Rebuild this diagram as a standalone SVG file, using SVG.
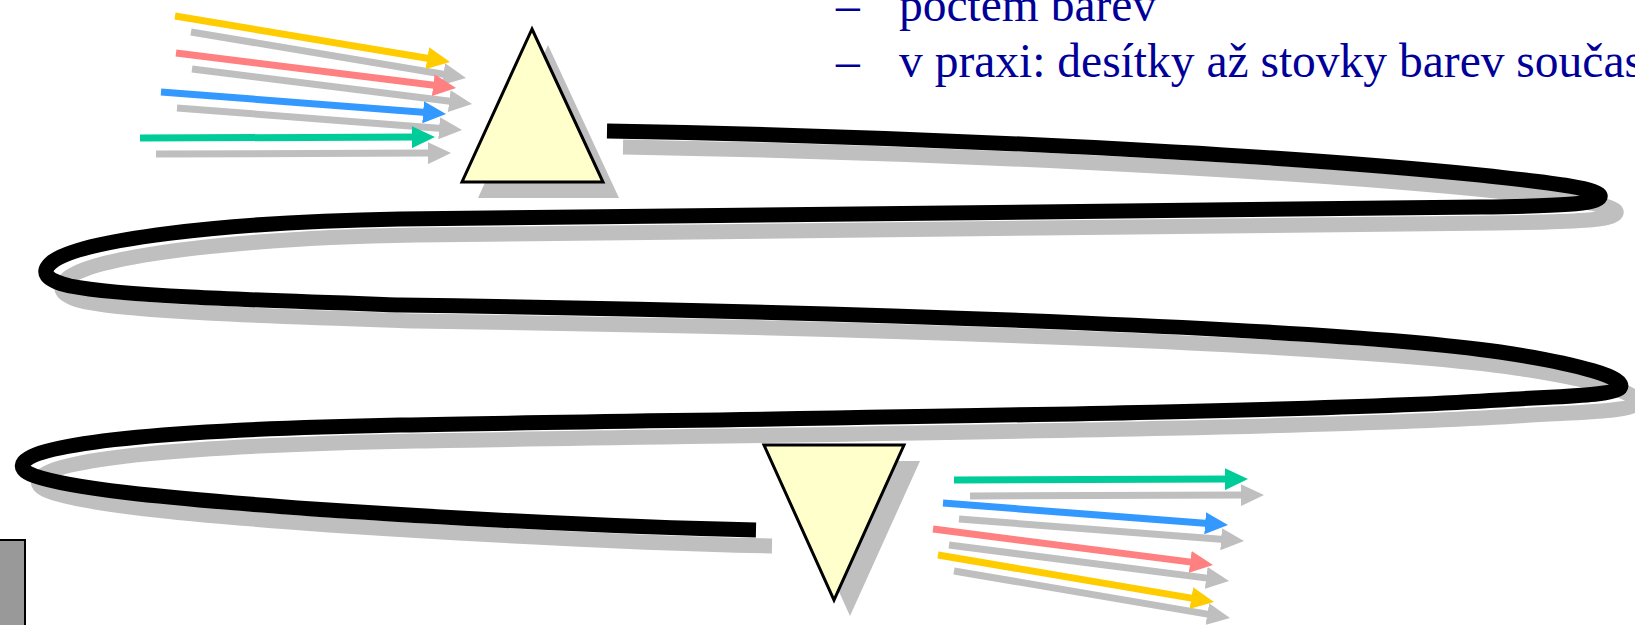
<svg xmlns="http://www.w3.org/2000/svg" width="1635" height="625" viewBox="0 0 1635 625">
<defs>
<style>
.ray{fill:none;stroke-width:7;stroke-linecap:butt}
.sh{stroke:#BFBFBF}
.y{stroke:#FFCC00}
.p{stroke:#FF8080}
.b{stroke:#3399FF}
.g{stroke:#00CC99}
.fiber{fill:none;stroke:#000;stroke-width:15;stroke-linecap:butt;stroke-linejoin:round}
.fibersh{fill:none;stroke:#BFBFBF;stroke-width:15;stroke-linecap:butt;stroke-linejoin:round}
.prism{fill:#FFFFCC;stroke:#000;stroke-width:3;stroke-linejoin:miter}
.prismsh{fill:#BFBFBF}
.txt{font-family:"Liberation Serif","Times New Roman",serif;font-size:47.5px;fill:#000099}
</style>
<marker id="ah-sh" viewBox="-3 -11 23 22" refX="0" refY="0" markerWidth="23" markerHeight="22" markerUnits="userSpaceOnUse" orient="auto"><path d="M-3,-11 L20,0 L-3,11 z" fill="#BFBFBF"/></marker>
<marker id="ah-y" viewBox="-3 -11 23 22" refX="0" refY="0" markerWidth="23" markerHeight="22" markerUnits="userSpaceOnUse" orient="auto"><path d="M-3,-11 L20,0 L-3,11 z" fill="#FFCC00"/></marker>
<marker id="ah-p" viewBox="-3 -11 23 22" refX="0" refY="0" markerWidth="23" markerHeight="22" markerUnits="userSpaceOnUse" orient="auto"><path d="M-3,-11 L20,0 L-3,11 z" fill="#FF8080"/></marker>
<marker id="ah-b" viewBox="-3 -11 23 22" refX="0" refY="0" markerWidth="23" markerHeight="22" markerUnits="userSpaceOnUse" orient="auto"><path d="M-3,-11 L20,0 L-3,11 z" fill="#3399FF"/></marker>
<marker id="ah-g" viewBox="-3 -11 23 22" refX="0" refY="0" markerWidth="23" markerHeight="22" markerUnits="userSpaceOnUse" orient="auto"><path d="M-3,-11 L20,0 L-3,11 z" fill="#00CC99"/></marker>
</defs>
<rect width="1635" height="625" fill="#fff"/>

<g id="text">
<text class="txt" x="836" y="21">–</text>
<text class="txt" x="899" y="21">počtem barev</text>
<text class="txt" x="836" y="77">–</text>
<text class="txt" x="899" y="77">v praxi: desítky až stovky barev součas</text>
</g>

<g id="gray-box">
<rect x="-2" y="540" width="27" height="90" fill="#999999" stroke="#000" stroke-width="2"/>
</g>

<g id="connectors">
<g id="fiber">
<path class="fibersh" transform="translate(16,16)" d="M607,131 C900,136 1250,152 1480,175 C1555,183 1603,189 1600,197 C1597,204 1560,206 1480,207 C1000,211 700,214 400,219 C220,222 80,240 52,262 C40,272 45,280 70,286 C120,296 250,300 400,305 C900,312 1350,330 1500,352 C1580,364 1628,378 1620,388 C1612,396 1560,396 1500,400 C1300,413 800,418 400,425 C250,428 120,435 60,448 C20,456 12,468 35,476 C70,488 150,497 313,509 C450,518 600,527 756,530"/>
<path class="fiber" d="M607,131 C900,136 1250,152 1480,175 C1555,183 1603,189 1600,197 C1597,204 1560,206 1480,207 C1000,211 700,214 400,219 C220,222 80,240 52,262 C40,272 45,280 70,286 C120,296 250,300 400,305 C900,312 1350,330 1500,352 C1580,364 1628,378 1620,388 C1612,396 1560,396 1500,400 C1300,413 800,418 400,425 C250,428 120,435 60,448 C20,456 12,468 35,476 C70,488 150,497 313,509 C450,518 600,527 756,530"/>
</g>
<g id="rays-in">
<line class="ray sh" x1="191" y1="32" x2="446.3" y2="74.7" marker-end="url(#ah-sh)"/>
<line class="ray sh" x1="192" y1="69" x2="452.2" y2="101.5" marker-end="url(#ah-sh)"/>
<line class="ray sh" x1="177" y1="108" x2="442.1" y2="128.5" marker-end="url(#ah-sh)"/>
<line class="ray sh" x1="156" y1="154" x2="431" y2="153.1" marker-end="url(#ah-sh)"/>
<line class="ray y" x1="175" y1="16" x2="430.3" y2="58.7" marker-end="url(#ah-y)"/>
<line class="ray p" x1="176" y1="53" x2="436.2" y2="85.5" marker-end="url(#ah-p)"/>
<line class="ray b" x1="161" y1="92" x2="426.1" y2="112.5" marker-end="url(#ah-b)"/>
<line class="ray g" x1="140" y1="138" x2="415" y2="137.1" marker-end="url(#ah-g)"/>
</g>
<g id="rays-out">
<line class="ray sh" x1="970" y1="496" x2="1244" y2="495.1" marker-end="url(#ah-sh)"/>
<line class="ray sh" x1="959" y1="519" x2="1224.1" y2="539.5" marker-end="url(#ah-sh)"/>
<line class="ray sh" x1="949" y1="545" x2="1209.2" y2="578.4" marker-end="url(#ah-sh)"/>
<line class="ray sh" x1="954" y1="571" x2="1210.3" y2="614.6" marker-end="url(#ah-sh)"/>
<line class="ray g" x1="954" y1="480" x2="1228" y2="479.1" marker-end="url(#ah-g)"/>
<line class="ray b" x1="943" y1="503" x2="1208.1" y2="523.5" marker-end="url(#ah-b)"/>
<line class="ray p" x1="933" y1="529" x2="1193.2" y2="562.4" marker-end="url(#ah-p)"/>
<line class="ray y" x1="938" y1="555" x2="1194.3" y2="598.6" marker-end="url(#ah-y)"/>
</g>
</g>

<g id="prism-in">
<polygon class="prismsh" points="548,45 619,198 478,198"/>
<polygon class="prism" points="532,29 603,182 462,182"/>
</g>

<g id="prism-out">
<polygon class="prismsh" points="780,461 920,461 850,616"/>
<polygon class="prism" points="764,445 904,445 834,600"/>
</g>
</svg>
